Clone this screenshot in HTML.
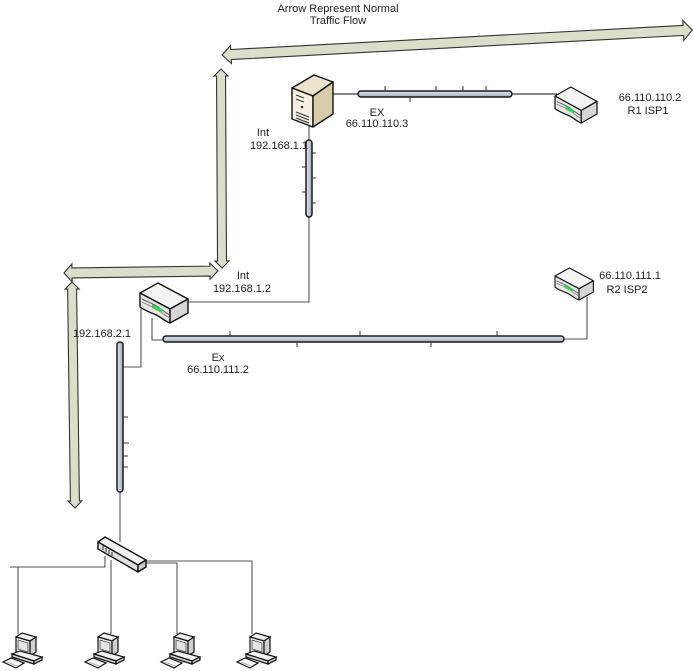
<!DOCTYPE html>
<html><head><meta charset="utf-8"><style>
html,body{margin:0;padding:0;background:#fff;}
svg{display:block;}
text{font-family:"Liberation Sans",Arial,sans-serif;font-size:11px;fill:#222;text-anchor:middle;}
</style></head><body>
<svg width="693" height="671" viewBox="0 0 693 671" xmlns="http://www.w3.org/2000/svg">
<defs>
<linearGradient id="bus" x1="0" y1="0" x2="0" y2="1"><stop offset="0" stop-color="#e0e6ee"/><stop offset="1" stop-color="#9fb0c6"/></linearGradient>
<linearGradient id="busv" x1="0" y1="0" x2="1" y2="0"><stop offset="0" stop-color="#e0e6ee"/><stop offset="1" stop-color="#9fb0c6"/></linearGradient>
<g id="router">
  <polygon points="0,10 18,0 48,16 30,26" fill="#f4f4f4" stroke="#111" stroke-width="1.4" stroke-linejoin="round"/>
  <path d="M0,10 L30,26 L30,40 C24,38 20,33 14,31 C9,29 4,27 0,24 Z" fill="#e6e6e6" stroke="#111" stroke-width="1.4" stroke-linejoin="round"/>
  <polygon points="30,26 48,16 48,30 30,40" fill="#d6d6d6" stroke="#111" stroke-width="1.4" stroke-linejoin="round"/>
  <path d="M2,16 C8,19 14,21 18,24 C22,27 26,30 30,32" fill="none" stroke="#555" stroke-width="1"/>
  <path d="M2,19 C8,22 14,24 18,27 C22,30 26,33 30,35" fill="none" stroke="#777" stroke-width="0.8"/>
  <path d="M12,21 L22,26 L22,30 L12,25 Z" fill="#3fcf5a"/>
</g>
<g id="pc">
  <polygon points="14,5 20,1 34,5 28,9" fill="#f0f0f0" stroke="#111" stroke-width="1.2"/>
  <polygon points="14,5 28,9 28,24 14,20" fill="#fafafa" stroke="#111" stroke-width="1.2"/>
  <polygon points="16,8 26,11 26,20 16,17" fill="#e4e4e4" stroke="#444" stroke-width="0.8"/>
  <polygon points="28,9 34,5 34,20 28,24" fill="#cfcfcf" stroke="#111" stroke-width="1.2"/>
  <polygon points="10,22 18,19 40,25 32,29" fill="#f2f2f2" stroke="#111" stroke-width="1.2"/>
  <polygon points="10,22 32,29 32,32 10,25" fill="#dcdcdc" stroke="#111" stroke-width="1.2"/>
  <polygon points="32,29 40,25 40,28 32,32" fill="#c4c4c4" stroke="#111" stroke-width="1.2"/>
  <polygon points="1,30 9,26 22,31 14,36" fill="#f6f6f6" stroke="#111" stroke-width="1.2"/>
  <line x1="5" y1="30" x2="15" y2="34" stroke="#888" stroke-width="0.6"/>
</g>
</defs>

<!-- arrows -->
<g fill="#dcdec9" stroke="#333" stroke-width="1.1" stroke-linejoin="miter">
  <g transform="translate(222,55) rotate(-3.05)">
    <polygon points="0,0 9,-9 9,-5 462,-5 462,-10 471,0 462,10 462,5 9,5 9,9"/>
  </g>
  <g transform="translate(221,69) rotate(89.7)">
    <polygon points="0,0 7,-7 7,-4.5 192,-4.5 192,-7 199,0 192,7 192,4.5 7,4.5 7,7"/>
  </g>
  <g transform="translate(64,273) rotate(-0.74)">
    <polygon points="0,0 8,-9 8,-5 146,-5 146,-8 154,0 146,8 146,5 8,5 8,9"/>
  </g>
  <g transform="translate(72,282) rotate(89.24)">
    <polygon points="0,0 7,-7 7,-4.5 219,-4.5 219,-7 226,0 219,7 219,4.5 7,4.5 7,7"/>
  </g>
</g>

<!-- connector lines -->
<g fill="none" stroke="#555" stroke-width="1.1">
  <line x1="331" y1="94" x2="358" y2="94" stroke="#111"/>
  <line x1="512" y1="94" x2="557" y2="94" stroke="#111"/>
  <line x1="309" y1="126" x2="309" y2="140"/>
  <polyline points="309,217 309,302 187,302"/>
  <polyline points="152,318 152,340 164,340"/>
  <polyline points="141,303 141,367 123,367"/>
  <polyline points="564,339 587,339 587,297"/>
  <line x1="120" y1="492" x2="120" y2="542"/>
  <polyline points="10,567 105,567 105,556"/>
  <line x1="18" y1="567" x2="18" y2="634"/>
  <line x1="111" y1="560" x2="111" y2="634"/>
  <polyline points="146,563 177,563 177,634"/>
  <polyline points="146,561 252,561 252,634"/>
</g>

<!-- buses -->
<g stroke="#1a1a1a" stroke-width="1.5">
  <rect x="358" y="91" width="154" height="6" rx="3" fill="url(#bus)"/>
  <rect x="306" y="140" width="6" height="77" rx="3" fill="url(#busv)"/>
  <rect x="163" y="336" width="401" height="6" rx="3" fill="url(#bus)"/>
  <rect x="117" y="342" width="6" height="150" rx="3" fill="url(#busv)"/>
</g>
<!-- ticks -->
<g stroke="#333" stroke-width="1">
  <line x1="385" y1="91" x2="385" y2="86"/><line x1="436" y1="91" x2="436" y2="86"/>
  <line x1="463" y1="91" x2="463" y2="86"/><line x1="486" y1="91" x2="486" y2="86"/>
  <line x1="410" y1="97" x2="410" y2="102"/>
  <line x1="312" y1="153" x2="316" y2="153"/><line x1="312" y1="178" x2="316" y2="178"/><line x1="312" y1="203" x2="316" y2="203"/>
  <line x1="306" y1="167" x2="302" y2="167"/><line x1="306" y1="192" x2="302" y2="192"/>
  <line x1="230" y1="336" x2="230" y2="331"/><line x1="360" y1="336" x2="360" y2="331"/><line x1="497" y1="336" x2="497" y2="331"/>
  <line x1="297" y1="342" x2="297" y2="347"/><line x1="431" y1="342" x2="431" y2="347"/>
  <line x1="123" y1="417" x2="128" y2="417"/><line x1="123" y1="443" x2="129" y2="443"/>
  <line x1="123" y1="456" x2="128" y2="456"/><line x1="123" y1="467" x2="128" y2="467"/>
</g>

<!-- server -->
<g stroke="#111" stroke-width="1.4" stroke-linejoin="round">
  <polygon points="292,88 314,75 333,82 313,96" fill="#ebe3cb"/>
  <polygon points="292,88 313,96 313,127 292,119" fill="#f5f0e2"/>
  <polygon points="313,96 333,82 333,114 313,127" fill="#d8ccab"/>
</g>
<g stroke="#333" stroke-width="1">
  <line x1="296" y1="95" x2="304" y2="98"/><line x1="296" y1="99" x2="304" y2="102"/>
  <line x1="296" y1="112" x2="309" y2="117"/><line x1="296" y1="115" x2="309" y2="120"/>
  <line x1="296" y1="118" x2="309" y2="123"/>
</g>
<circle cx="302" cy="107" r="1.3" fill="#333"/>

<!-- routers -->
<use href="#router" transform="translate(140,283)"/>
<use href="#router" transform="translate(555,87) scale(0.875,0.9)"/>
<use href="#router" transform="translate(555,268) scale(0.8)"/>

<!-- switch -->
<g stroke="#111" stroke-width="1.4" stroke-linejoin="round">
  <polygon points="98,542 105,537 146,560 138,565" fill="#f2f2f2"/>
  <polygon points="98,542 138,565 138,572 98,549" fill="#e0e0e0"/>
  <polygon points="138,565 146,560 146,567 138,572" fill="#c8c8c8"/>
</g>
<g stroke="#333" stroke-width="1">
  <line x1="103" y1="546" x2="103" y2="550"/><line x1="106" y1="548" x2="106" y2="552"/>
  <line x1="109" y1="550" x2="109" y2="554"/><line x1="112" y1="552" x2="112" y2="556"/>
</g>

<!-- PCs -->
<use href="#pc" transform="translate(2,632)"/>
<use href="#pc" transform="translate(84,632)"/>
<use href="#pc" transform="translate(160,632)"/>
<use href="#pc" transform="translate(236,632)"/>

<!-- labels -->
<text x="338" y="12">Arrow Represent Normal</text>
<text x="338" y="24">Traffic Flow</text>
<text x="377" y="116">EX</text>
<text x="377" y="127">66.110.110.3</text>
<text x="650" y="101">66.110.110.2</text>
<text x="648" y="114">R1 ISP1</text>
<text x="263" y="136">Int</text>
<text x="279" y="149">192.168.1.1</text>
<text x="243" y="279">Int</text>
<text x="242" y="292">192.168.1.2</text>
<text x="102" y="337">192.168.2.1</text>
<text x="218" y="361">Ex</text>
<text x="218" y="373">66.110.111.2</text>
<text x="630" y="279">66.110.111.1</text>
<text x="627" y="293">R2 ISP2</text>
</svg>
</body></html>
